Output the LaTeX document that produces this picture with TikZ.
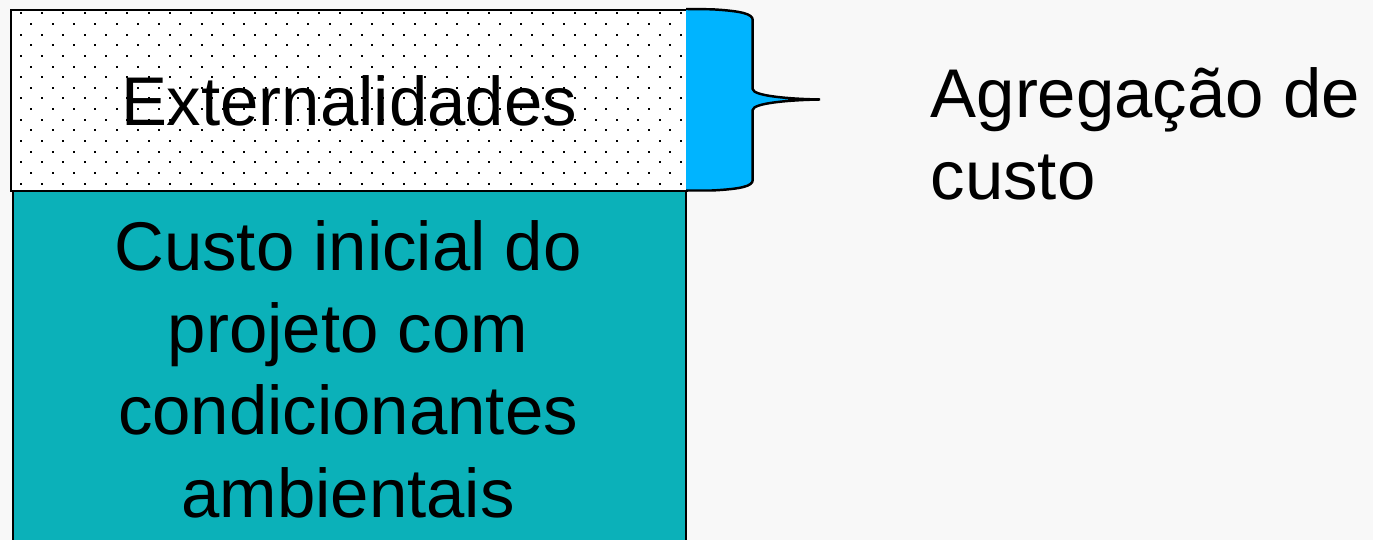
\documentclass[tikz,border=0pt]{standalone}
\usepackage{fontspec}
\setmainfont{Liberation Sans}
\usetikzlibrary{positioning}
\definecolor{tealfill}{RGB}{11,177,185}
\definecolor{bracefill}{RGB}{0,180,255}
\definecolor{pagebg}{RGB}{248,248,248}

\begin{document}
\begin{tikzpicture}[x=0.01cm, y=-0.01cm,
    bigtext/.style={font=\fontsize{19.6}{23.4}\selectfont, inner sep=0pt},
    boxline/.style={draw=black, line width=0.7pt}]

  \def\px{21.3};
  \def\py{10.65};

  \useasboundingbox (0,0) rectangle (1373,540);
  \clip (0,0) rectangle (1373,540);
  \fill[pagebg] (0,0) rectangle (1373,540);

  %lower box
  \node[boxline, fill=tealfill, anchor=north west, minimum width=673*0.01cm,
        minimum height=400*0.01cm, inner sep=0pt] (custo) at (12,190) {};

  %upper box with dots
  \node[boxline, fill=white, anchor=north west, minimum width=676.5*0.01cm,
        minimum height=181*0.01cm, inner sep=0pt] (ext) at (9.5,9) {};

  \begin{scope}
    \clip (ext.north west) rectangle (ext.south east);
    \foreach \j in {0,...,16}{
      \pgfmathsetmacro{\off}{mod(\j,2)*\py}
      \foreach \i in {0,...,31}{
        \fill (19.7+\off+\px*\i, 12.3+\py*\j) rectangle +(2,2);
      }
    }
  \end{scope}

  %brace
  \filldraw[fill=bracefill, line width=0.7pt]
    (686,9) -- (711.7,9.3) .. controls (742,11) and (752.7,14) .. (752.7,20)
    -- (752.7,89) .. controls (752.7,96) and (790,99) .. (820,99.5)
    .. controls (790,100) and (752.7,103) .. (752.7,110)
    -- (752.7,180) .. controls (752.7,186) and (742,189) .. (711.7,190.5)
    -- (686,190.5);

  %texts
  \node[bigtext] (exttext) at (ext.center) {Externalidades};
  \node[bigtext, anchor=base, align=center] (custotext) at (348,517)
    {Custo inicial do\\projeto com\\condicionantes\\ambientais};
  \node[bigtext, anchor=base west, align=left] (agreg) at (930,200)
    {Agregação de\\custo};

\end{tikzpicture}
\end{document}
